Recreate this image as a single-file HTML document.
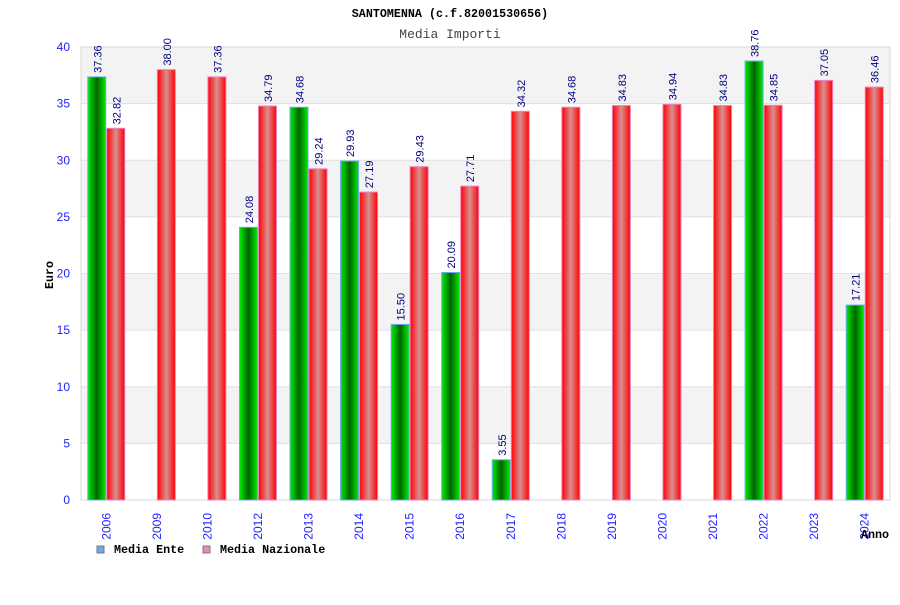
<!DOCTYPE html>
<html><head><meta charset="utf-8"><style>
body{margin:0;background:#fff;width:900px;height:600px;overflow:hidden}
svg text{font-family:"Liberation Sans",sans-serif}
</style></head><body>
<svg id="chart" width="900" height="600">
<defs>
<linearGradient id="gG" x1="0" x2="1" y1="0" y2="0"><stop offset="0" stop-color="#00ee00"/><stop offset="0.5" stop-color="#006400"/><stop offset="1" stop-color="#00ee00"/></linearGradient>
<linearGradient id="gR" x1="0" x2="1" y1="0" y2="0"><stop offset="0" stop-color="#ff0000"/><stop offset="0.5" stop-color="#d89090"/><stop offset="1" stop-color="#ff0000"/></linearGradient>
</defs>
<text x="450" y="17" text-anchor="middle" font-size="11.7" font-weight="bold" style="font-family:'Liberation Mono',monospace">SANTOMENNA (c.f.82001530656)</text>
<text x="450" y="38" text-anchor="middle" font-size="13" fill="#444" style="font-family:'Liberation Mono',monospace">Media Importi</text>
<g id="grid"></g><g id="bars"></g><g id="labels"></g>
<text x="53" y="275" transform="rotate(-90 53 275)" text-anchor="middle" font-size="11.7" font-weight="bold" style="font-family:'Liberation Mono',monospace">Euro</text>
<text x="875" y="538" text-anchor="middle" font-size="11.7" font-weight="bold" style="font-family:'Liberation Mono',monospace">Anno</text>
<g>
<rect x="97" y="546" width="7" height="7" fill="#6aa8f0" stroke="#777"/>
<text x="114" y="553" font-size="11.7" font-weight="bold" style="font-family:'Liberation Mono',monospace">Media Ente</text>
<rect x="203" y="546" width="7" height="7" fill="#f088c0" stroke="#777"/>
<text x="220" y="553" font-size="11.7" font-weight="bold" style="font-family:'Liberation Mono',monospace">Media Nazionale</text>
</g>
</svg>
<script>
const categories=["2006","2009","2010","2012","2013","2014","2015","2016","2017","2018","2019","2020","2021","2022","2023","2024"];
const enteValues=[37.36,null,null,24.08,34.68,29.93,15.50,20.09,3.55,null,null,null,null,38.76,null,17.21];
const nazValues=[32.82,38.00,37.36,34.79,29.24,27.19,29.43,27.71,34.32,34.68,34.83,34.94,34.83,34.85,37.05,36.46];
const yTicks=[0,5,10,15,20,25,30,35,40];
const L=81,R=890,T=47,B=500,yMax=40;
const NS="http://www.w3.org/2000/svg";
const y=v=>B-(v/yMax)*(B-T);
const step=(R-L)/categories.length;
const xc=i=>L+step*(i+0.5);
function mk(tag,attrs,parent,txt){const e=document.createElementNS(NS,tag);for(const k in attrs)e.setAttribute(k,attrs[k]);if(txt!=null)e.textContent=txt;parent.appendChild(e);return e;}
const grid=document.getElementById('grid'),bars=document.getElementById('bars'),labels=document.getElementById('labels');
for(let i=0;i<yTicks.length-1;i++){
  const r=mk('rect',{x:L,y:y(yTicks[i+1]),width:R-L,height:y(yTicks[i])-y(yTicks[i+1]),fill:(i%2==1)?'#f3f3f3':'#fff'},grid);
  
  
}
yTicks.forEach(t=>{
  const l=mk('line',{x1:L,x2:R,y1:y(t),y2:y(t),stroke:'#e0e0e0'},grid);
  
  
  const tx=mk('text',{x:70,y:y(t)+4,'text-anchor':'end','font-size':12,fill:'#2222ff'},grid,t);
  
  
});
const frame=mk('rect',{x:L,y:T,width:R-L,height:B-T,fill:'none',stroke:'#d8d8d8'},grid);


const bw=18;
categories.forEach((c,i)=>{
  const cx=xc(i);
  const ev=enteValues[i],nv=nazValues[i];
  if(ev!=null){
    const b=mk('rect',{x:cx-bw-0.5,y:y(ev),width:bw,height:B-y(ev),fill:'url(#gG)',stroke:'#6aa8f0','stroke-width':1},bars);
    
    
    const tx=mk('text',{x:0,y:0,'font-size':11,fill:'#000080',transform:`translate(${cx-bw/2+4},${y(ev)-4}) rotate(-90)`},labels,ev.toFixed(2));
    
    
  }
  if(nv!=null){
    const b=mk('rect',{x:cx+0.5,y:y(nv),width:bw,height:B-y(nv),fill:'url(#gR)',stroke:'#f080c0','stroke-width':1},bars);
    
    
    const tx=mk('text',{x:0,y:0,'font-size':11,fill:'#000080',transform:`translate(${cx+bw/2+5},${y(nv)-4}) rotate(-90)`},labels,nv.toFixed(2));
    
    
  }
  const xl=mk('text',{x:0,y:0,'font-size':12,fill:'#2222ff','text-anchor':'end',transform:`translate(${cx+4},${B+13}) rotate(-90)`},labels,c);
  
  
});
</script>
</body></html>
